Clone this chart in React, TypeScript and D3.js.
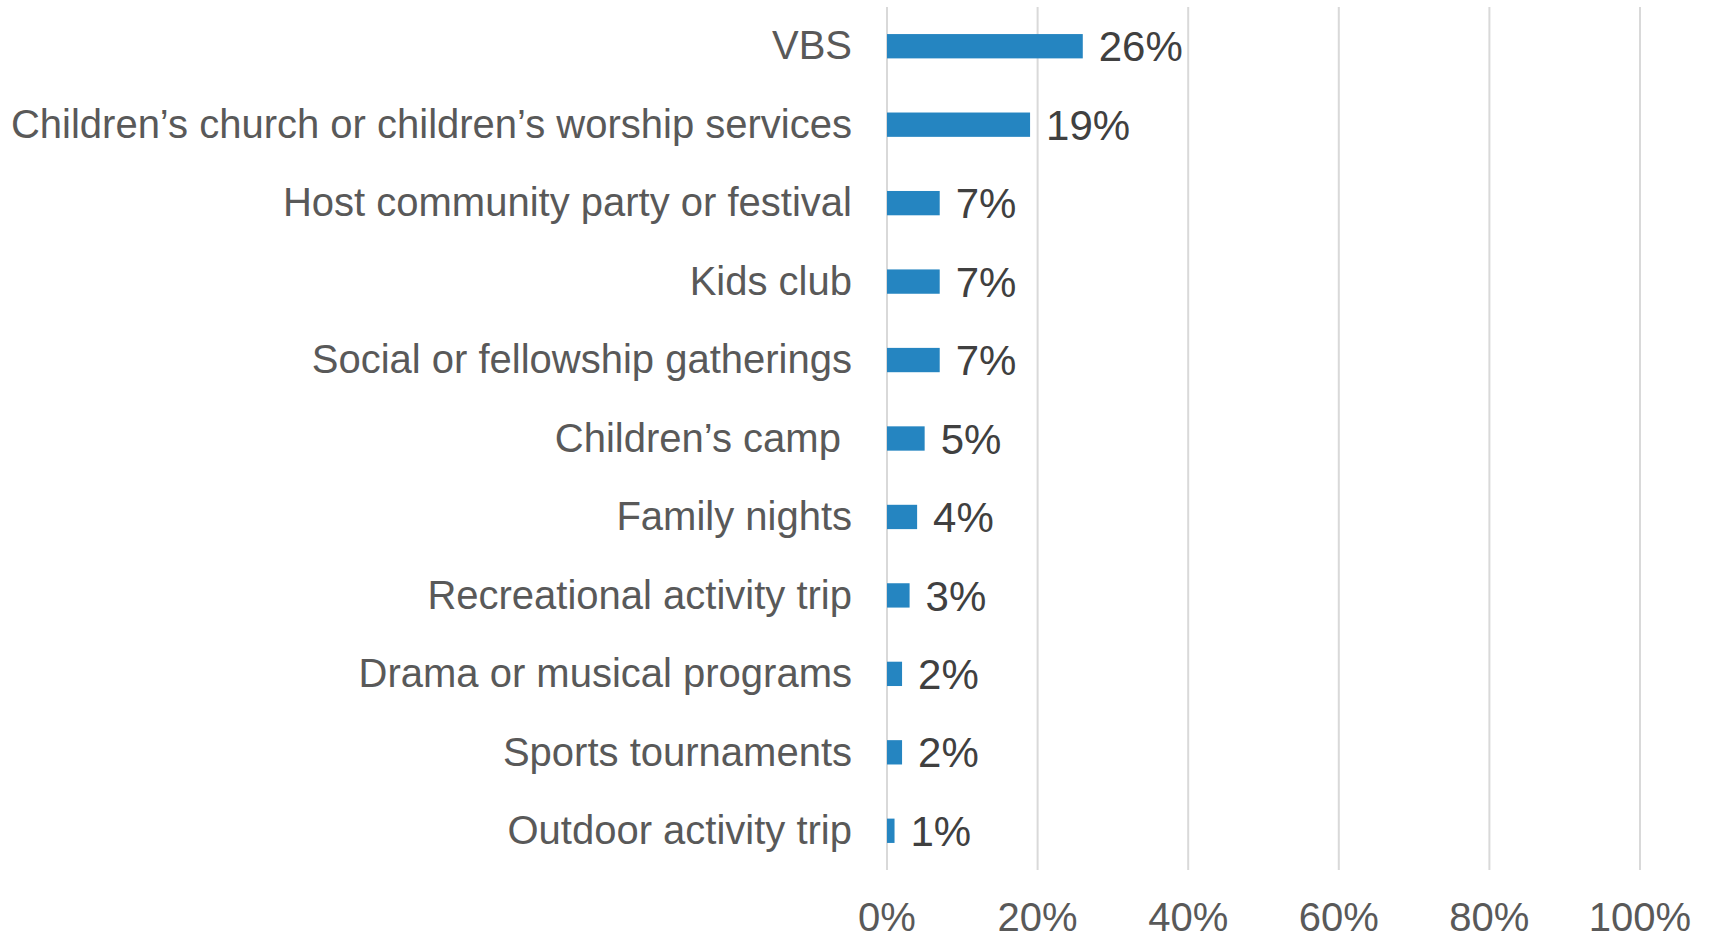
import { useEffect, useRef } from 'react';
import * as d3 from 'd3';

const categories = [
	'VBS',
	'Children’s church or children’s worship services',
	'Host community party or festival',
	'Kids club',
	'Social or fellowship gatherings',
	'Children’s camp ',
	'Family nights',
	'Recreational activity trip',
	'Drama or musical programs',
	'Sports tournaments',
	'Outdoor activity trip',
];
const values = [26, 19, 7, 7, 7, 5, 4, 3, 2, 2, 1];
const ticks = [0, 20, 40, 60, 80, 100];

const W = 1709;
const H = 940;

const App: React.FC = () => {
	const svgRef = useRef<SVGSVGElement>(null);

	useEffect(() => {
		if (!svgRef.current) return;
		const svg = d3.select(svgRef.current);
		svg.selectAll('*').remove();

		const font = 'Arial, "Liberation Sans", sans-serif';
		const x = d3.scaleLinear().domain([0, 100]).range([887, 1640]);
		const y = d3
			.scaleBand<string>()
			.domain(categories)
			.range([7, 870])
			.paddingInner(0.69)
			.paddingOuter(0.345);

		// gridlines
		svg.append('g')
			.selectAll('line')
			.data(ticks)
			.join('line')
			.attr('x1', (d) => x(d))
			.attr('x2', (d) => x(d))
			.attr('y1', 7)
			.attr('y2', 870)
			.attr('stroke', '#d9d9d9')
			.attr('stroke-width', 2);

		// tick labels
		svg.append('g')
			.selectAll('text')
			.data(ticks)
			.join('text')
			.attr('x', (d) => x(d))
			.attr('y', 931)
			.attr('text-anchor', 'middle')
			.style('font-family', font)
			.style('font-size', '40px')
			.style('fill', '#595959')
			.text((d) => `${d}%`);

		// bars
		svg.append('g')
			.selectAll('rect')
			.data(values)
			.join('rect')
			.attr('x', x(0))
			.attr('y', (_, i) => y(categories[i]) ?? 0)
			.attr('width', (d) => x(d) - x(0))
			.attr('height', y.bandwidth())
			.attr('fill', '#2585c1');

		// value labels
		svg.append('g')
			.selectAll('text')
			.data(values)
			.join('text')
			.attr('x', (d) => x(d) + 16)
			.attr('y', (_, i) => (y(categories[i]) ?? 0) + y.bandwidth() / 2)
			.attr('dy', '0.36em')
			.style('font-family', font)
			.style('font-size', '42px')
			.style('fill', '#404040')
			.text((d) => `${d}%`);

		// category labels
		svg.append('g')
			.selectAll('text')
			.data(categories)
			.join('text')
			.attr('x', 852)
			.attr('y', (d) => (y(d) ?? 0) + y.bandwidth() / 2)
			.attr('dy', '0.33em')
			.attr('text-anchor', 'end')
			.style('white-space', 'pre')
			.style('font-family', font)
			.style('font-size', '40px')
			.style('fill', '#595959')
			.text((d) => d);
	}, []);

	return (
		<svg
			ref={svgRef}
			width={W}
			height={H}
			style={{ position: 'absolute', left: 0, top: 0, background: '#fff' }}
		></svg>
	);
};

export default App;
